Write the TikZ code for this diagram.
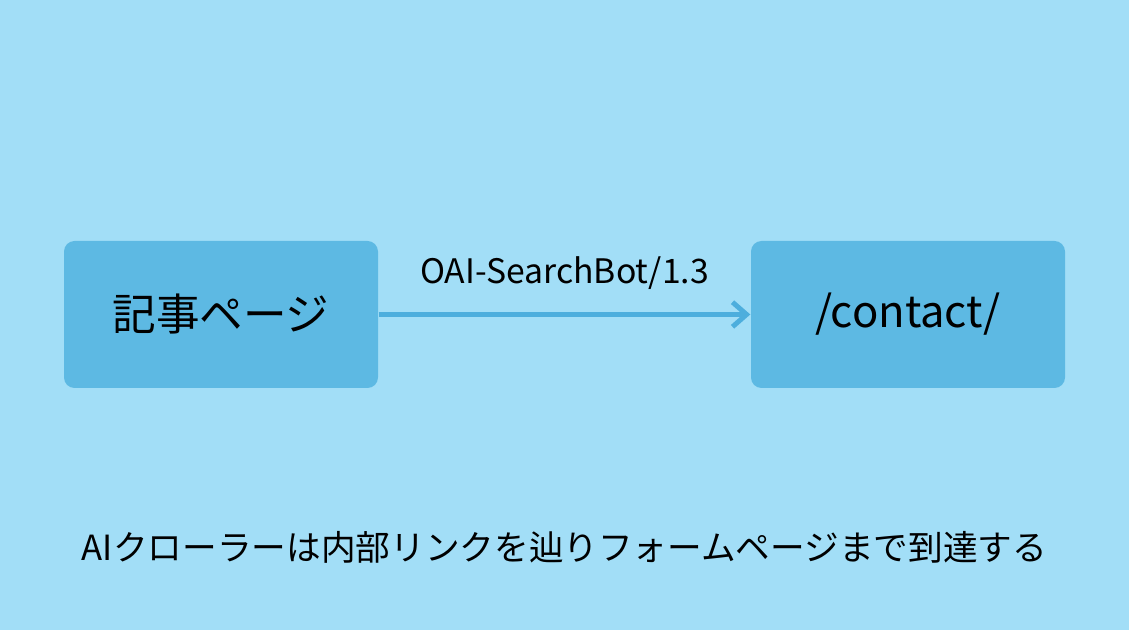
\documentclass[tikz,border=0pt]{standalone}
\usepackage{fontspec}
\setmainfont{Noto Sans CJK JP}
\usetikzlibrary{positioning,arrows.meta}
\definecolor{bgcolor}{HTML}{A2DEF7}
\definecolor{boxcolor}{HTML}{5DB9E3}
\definecolor{linecolor}{HTML}{4DAEDD}
\tikzset{pagebox/.style={fill=boxcolor, rounded corners=3pt, minimum width=3.14cm, minimum height=1.47cm, font=\fontsize{12.4}{14}\selectfont},%
    link/.style={-{Straight Barb[length=4pt,width=7pt]}, line width=1.4pt, color=linecolor}%
}
\begin{document}
\begin{tikzpicture}
    \fill[bgcolor] (0,0) rectangle (11.29,6.30);
    \useasboundingbox (0,0) rectangle (11.29,6.30);
    \begin{scope} %draw pages
        \node[pagebox] (article) at (2.21,3.155) {記事ページ};
        \node[pagebox] (contact) at (9.08,3.155) {/contact/};
    \end{scope}
    \begin{scope} %draw link
        \draw[link] (article) -- node[above=3pt, text=black, font=\fontsize{9.6}{11}\selectfont] (bot) {OAI-SearchBot/1.3} (contact);
    \end{scope}
    \node[font=\fontsize{9.86}{11}\selectfont] (caption) at (5.645,0.83) {AIクローラーは内部リンクを辿りフォームページまで到達する};
\end{tikzpicture}
\end{document}
